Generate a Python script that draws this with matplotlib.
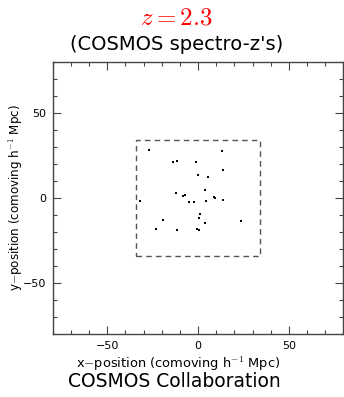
import matplotlib
matplotlib.use('Agg')
import matplotlib.pyplot as plt
from matplotlib.ticker import MultipleLocator

plt.rcParams['mathtext.fontset'] = 'cm'

# galaxy positions (comoving h^-1 Mpc)
xpos = [-26.9, -14.0, -11.5, -1.2, 0.05, -12.2, -8.5, -7.3, -32.0, -5.1,
        -2.3, 1.0, 0.8, -19.4, -23.4, -11.7, -0.3, 0.6, 13.3, 13.7,
        5.4, 3.9, 8.9, 9.6, 14.0, 4.5, 3.7, 23.7]
ypos = [28.2, 21.1, 21.4, 20.8, 13.2, 3.1, 1.4, 1.8, -2.0, -2.2,
        -2.2, -9.4, -11.7, -12.7, -18.0, -19.1, -18.1, -18.7, 27.8, 16.1,
        12.0, 4.7, 0.6, 0.0, -1.0, -1.8, -14.9, -13.5]
box_x = [-34, 34, 34, -34, -34]
box_y = [-34, -34, 34, 34, -34]
redshift = 2.3

fig = plt.figure(figsize=(3.44, 3.97), dpi=100)
ax = fig.add_axes([0.1532, 0.158, 0.845, 0.687])

ax.plot(box_x, box_y, color='#555555', lw=1.0, ls=(0, (4, 3)))
ax.scatter(xpos, ypos, s=4, c='black', marker='s', lw=0)

ax.set_xlim(-80, 80)
ax.set_ylim(-80, 80)
ax.xaxis.set_major_locator(MultipleLocator(50))
ax.xaxis.set_minor_locator(MultipleLocator(10))
ax.yaxis.set_major_locator(MultipleLocator(50))
ax.yaxis.set_minor_locator(MultipleLocator(10))
ax.tick_params(which='both', direction='in', top=True, right=True,
               color='#444444', width=0.8, labelsize=8, pad=5)
ax.tick_params(which='major', length=6)
ax.tick_params(which='minor', length=3)
for sp in ax.spines.values():
    sp.set_color('#444444')
    sp.set_linewidth(1.0)

ax.set_xlabel(r'x$-$position (comoving h$^{-1}$ Mpc)', fontsize=9.4)
ax.set_ylabel(r'y$-$position (comoving h$^{-1}$ Mpc)', fontsize=8.6)
ax.xaxis.set_label_coords(0.43, -0.076)
ax.yaxis.set_label_coords(-0.097, 0.5)

fig.text(0.512, 0.955, r'$z = %.1f$' % redshift, color='red', fontsize=18,
         ha='center', va='center')
fig.text(0.512, 0.889, "(COSMOS spectro-z's)", fontsize=14, ha='center', va='center')
fig.text(0.507, 0.038, 'COSMOS Collaboration', fontsize=13.5, ha='center', va='center')

fig.savefig('out.png', dpi=100)
